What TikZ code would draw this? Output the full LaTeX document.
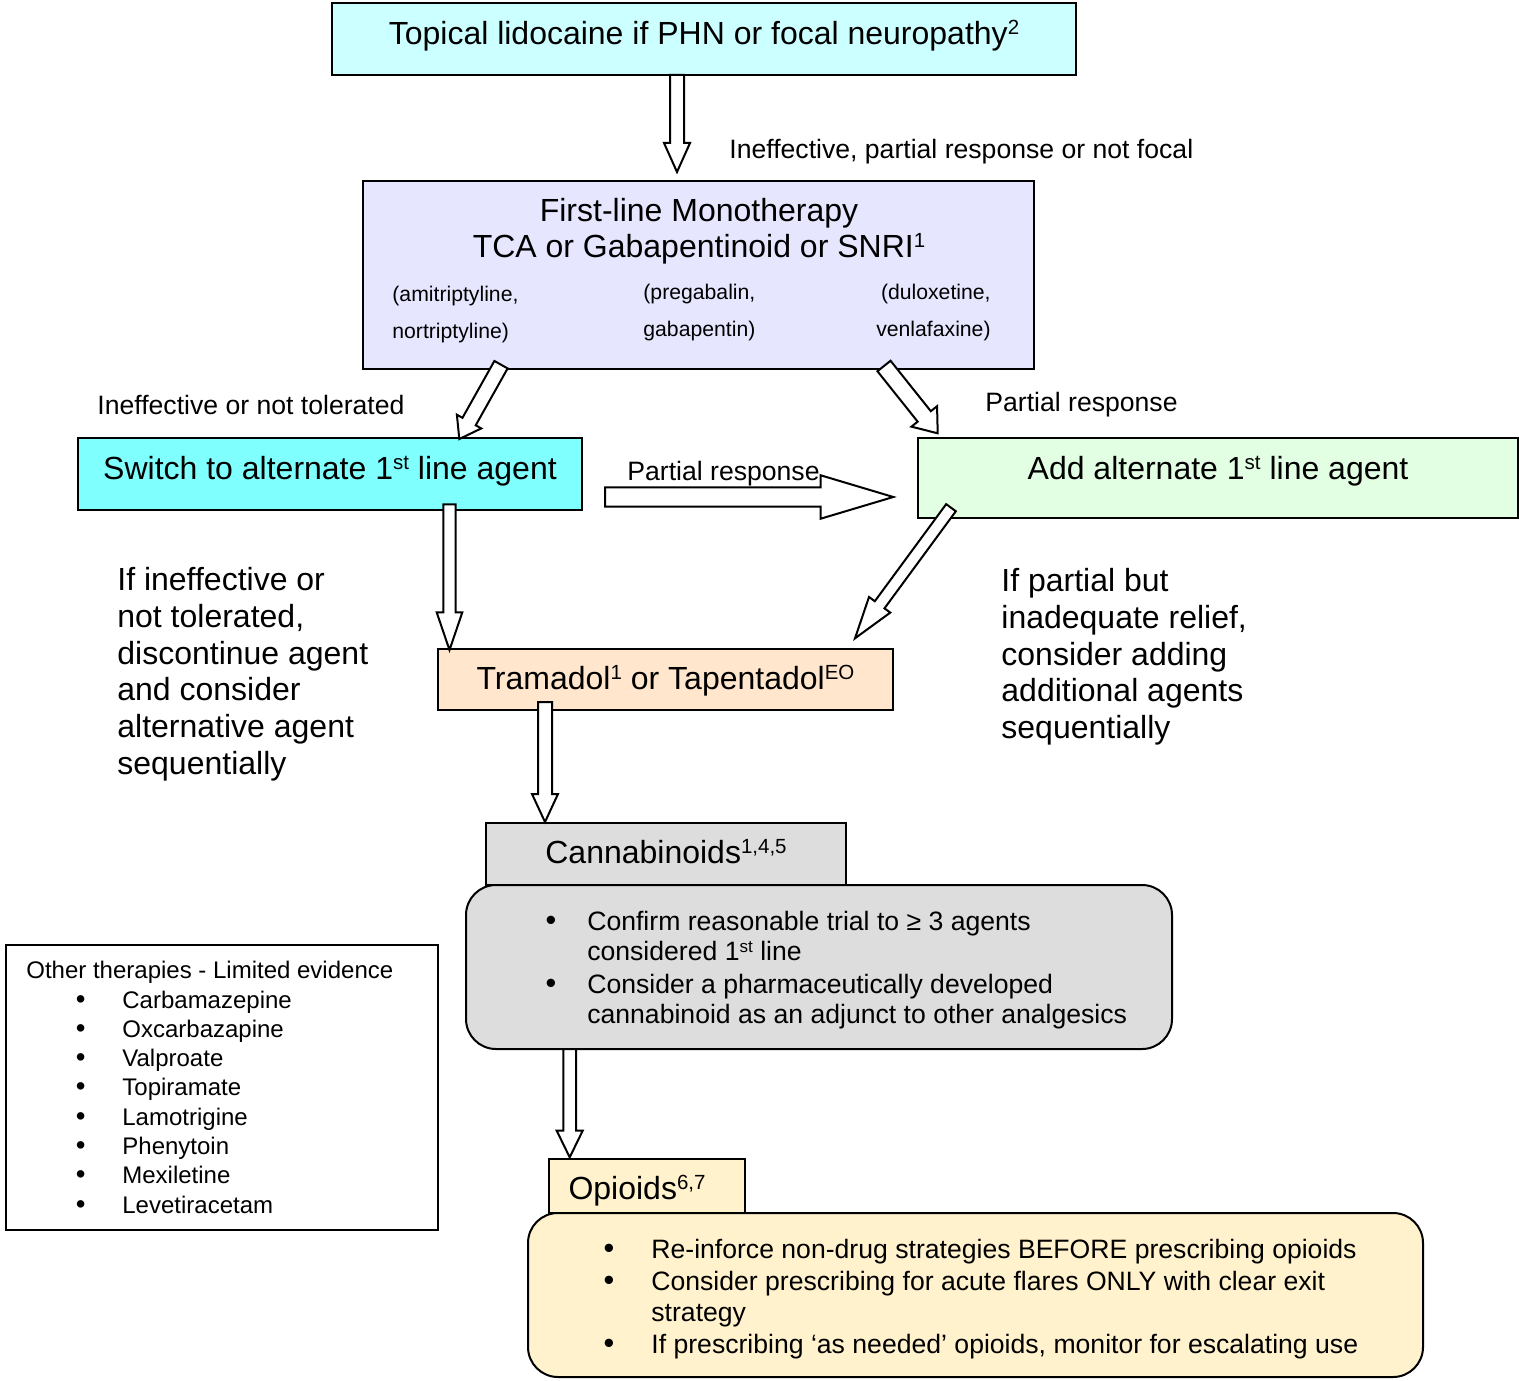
\documentclass[tikz,border=0pt]{standalone}
\usepackage{fontspec}
\setmainfont{Liberation Sans}
\usetikzlibrary{calc}

\definecolor{lidocyan}{HTML}{CCFFFF}
\definecolor{firstline}{HTML}{E6E6FF}
\definecolor{switchcyan}{HTML}{80FFFF}
\definecolor{addgreen}{HTML}{E3FFE3}
\definecolor{trampeach}{HTML}{FFE6CC}
\definecolor{cannagray}{HTML}{DDDDDD}
\definecolor{opioidyel}{HTML}{FFF2CC}

% hollow block arrow: from, to, half shaft, half head, head length
\newcommand{\blockarrow}[5]{%
  \coordinate (ba-b) at ($(#2)!#5!(#1)$);
  \draw[barrow] ($(#1)!#3!90:(#2)$) -- ($(ba-b)!#3!-90:(#1)$) -- ($(ba-b)!#4!-90:(#1)$)
    -- (#2) -- ($(ba-b)!#4!90:(#1)$) -- ($(ba-b)!#3!90:(#1)$) -- ($(#1)!#3!-90:(#2)$) -- cycle;}
\newcommand{\bitem}[1]{\makebox[#1][l]{\scalebox{1.15}{\textbullet}}}
\newcommand{\bskip}[1]{\hspace*{#1}}
\newcommand{\sups}[1]{\raisebox{0.3em}{\scalebox{0.64}{#1}}}

\begin{document}
\begin{tikzpicture}[x=0.5pt,y=-0.5pt]
    \tikzset{
    box/.style={draw, line width=1pt, inner sep=0pt, font=\fontsize{16}{18.4}\selectfont},
    rbox/.style={box, rounded corners=15pt},
    lbl/.style={anchor=west, inner sep=0pt, font=\fontsize{13.3}{15}\selectfont},
    para/.style={anchor=north west, inner sep=0pt, align=left, font=\fontsize{16}{18.4}\selectfont},
    drug/.style={inner sep=0pt, font=\fontsize{10.6}{18.5}\selectfont},
    lst/.style={anchor=west, inner sep=0pt, align=left},
    barrow/.style={draw, fill=white, line width=1pt, line join=miter},
    }
    \useasboundingbox (0,0) rectangle (1519,1380);

    % boxes
    \node[box, fill=lidocyan, minimum width=372pt, minimum height=36pt, text height=12pt, text depth=6.5pt] (topbox) at (704,39) {Topical lidocaine if PHN or focal neuropathy\sups{2}};
    \node[box, fill=firstline, minimum width=335.5pt, minimum height=94pt] (mainbox) at (698.5,275) {};
    \node[inner sep=0pt, align=center, font=\fontsize{16}{18}\selectfont] (mainttl) at (699,231) {First-line Monotherapy\\TCA or Gabapentinoid or SNRI\sups{1}};
    \node[drug, anchor=west, align=left] (tca) at (392,314.5) {(amitriptyline,\\nortriptyline)};
    \node[drug, anchor=west, align=left] (gaba) at (643,312.5) {(pregabalin,\\gabapentin)};
    \node[drug, anchor=east, align=right] (snri) at (991,312.5) {(duloxetine,\\venlafaxine)};
    \node[box, fill=switchcyan, minimum width=252pt, minimum height=36pt, text height=12pt, text depth=6.5pt] (switchbox) at (330,474) {Switch to alternate 1\sups{st} line agent};
    \node[box, fill=addgreen, minimum width=300pt, minimum height=40pt, text height=12pt, text depth=10.5pt] (addbox) at (1218,478) {Add alternate 1\sups{st} line agent};
    \node[box, fill=trampeach, minimum width=227.5pt, minimum height=30.5pt, text height=12pt, text depth=2pt] (trambox) at (665.5,679.5) {Tramadol\sups{1} or Tapentadol\sups{EO}};
    \node[box, fill=cannagray, minimum width=180pt, minimum height=31pt, text height=12pt, text depth=2.5pt] (cannatab) at (666,854) {Cannabinoids\sups{1,4,5}};
    \node[rbox, fill=cannagray, minimum width=353pt, minimum height=82pt] (cannabox) at (819,967) {};
    \node[box, fill=opioidyel, minimum width=98pt, minimum height=27pt, text height=14pt, text depth=0.5pt] (opiotab) at (647,1186) {Opioids\sups{6,7}\kern10pt};
    \node[rbox, fill=opioidyel, minimum width=447.5pt, minimum height=82pt] (opiobox) at (975.5,1295) {};
    \node[box, fill=white, minimum width=216pt, minimum height=142.5pt] (otherbox) at (222,1087.5) {};

    % lists
    \node[lst, font=\fontsize{13.3}{15}\selectfont] (cannalist) at (545.3,970) {\bitem{20.8pt}Confirm reasonable trial to ≥ 3 agents\\
      \bskip{20.8pt}considered 1\sups{st} line\\[1.5pt]
      \bitem{20.8pt}Consider a pharmaceutically developed\\
      \bskip{20.8pt}cannabinoid as an adjunct to other analgesics};
    \node[lst, font=\fontsize{13.3}{15.85}\selectfont] (opiolist) at (603.3,1299) {\bitem{23.85pt}Re-inforce non-drug strategies BEFORE prescribing opioids\\
      \bitem{23.85pt}Consider prescribing for acute flares ONLY with clear exit\\
      \bskip{23.85pt}strategy\\
      \bitem{23.85pt}If prescribing ‘as needed’ opioids, monitor for escalating use};
    \node[lst, font=\fontsize{12}{14.65}\selectfont] (otherlist) at (26,1087.4) {Other therapies - Limited evidence\\
      \bskip{24.75pt}\bitem{23.25pt}Carbamazepine\\
      \bskip{24.75pt}\bitem{23.25pt}Oxcarbazapine\\
      \bskip{24.75pt}\bitem{23.25pt}Valproate\\
      \bskip{24.75pt}\bitem{23.25pt}Topiramate\\
      \bskip{24.75pt}\bitem{23.25pt}Lamotrigine\\
      \bskip{24.75pt}\bitem{23.25pt}Phenytoin\\
      \bskip{24.75pt}\bitem{23.25pt}Mexiletine\\
      \bskip{24.75pt}\bitem{23.25pt}Levetiracetam};

    % side notes
    \node[para] (leftnote) at (117,567) {If ineffective or\\not tolerated,\\discontinue agent\\and consider\\alternative agent\\sequentially};
    \node[para] (rightnote) at (1001,568) {If partial but\\inadequate relief,\\consider adding\\additional agents\\sequentially};

    % arrows
    \coordinate (lidoout) at (677,75);
    \coordinate (mainin) at (677,172);
    \coordinate (mainoutl) at (501,364.7);
    \coordinate (switchin) at (459.3,439);
    \coordinate (mainoutr) at (884,366);
    \coordinate (addin) at (937.7,433.3);
    \coordinate (switchoutr) at (605,497);
    \coordinate (addinl) at (893.3,497);
    \coordinate (switchout) at (449.5,504.3);
    \coordinate (tramin) at (449.5,650);
    \coordinate (addout) at (951,507.7);
    \coordinate (traminr) at (855,638.3);
    \coordinate (tramout) at (545,702);
    \coordinate (cannain) at (545,822);
    \coordinate (cannaout) at (569.7,1049);
    \coordinate (opioin) at (569.7,1157.3);

    \blockarrow{lidoout}{mainin}{3.5pt}{6.5pt}{14.5pt}
    \blockarrow{mainoutl}{switchin}{3.8pt}{7pt}{10pt}
    \blockarrow{mainoutr}{addin}{4.2pt}{8.2pt}{10.8pt}
    \blockarrow{switchoutr}{addinl}{4.85pt}{10.85pt}{36.3pt}
    \blockarrow{switchout}{tramin}{3.1pt}{6.4pt}{18.8pt}
    \blockarrow{addout}{traminr}{3pt}{6.6pt}{20.8pt}
    \blockarrow{tramout}{cannain}{3.5pt}{6.5pt}{14pt}
    \blockarrow{cannaout}{opioin}{3.15pt}{6.5pt}{13.3pt}

    % arrow labels
    \node[lbl] (notfocal) at (729,151.5) {Ineffective, partial response or not focal};
    \node[lbl] (nottol) at (97,405) {Ineffective or not tolerated};
    \node[lbl] (partr) at (985,405) {Partial response};
    \node[lbl] (partm) at (627,474) {Partial response};
\end{tikzpicture}
\end{document}
